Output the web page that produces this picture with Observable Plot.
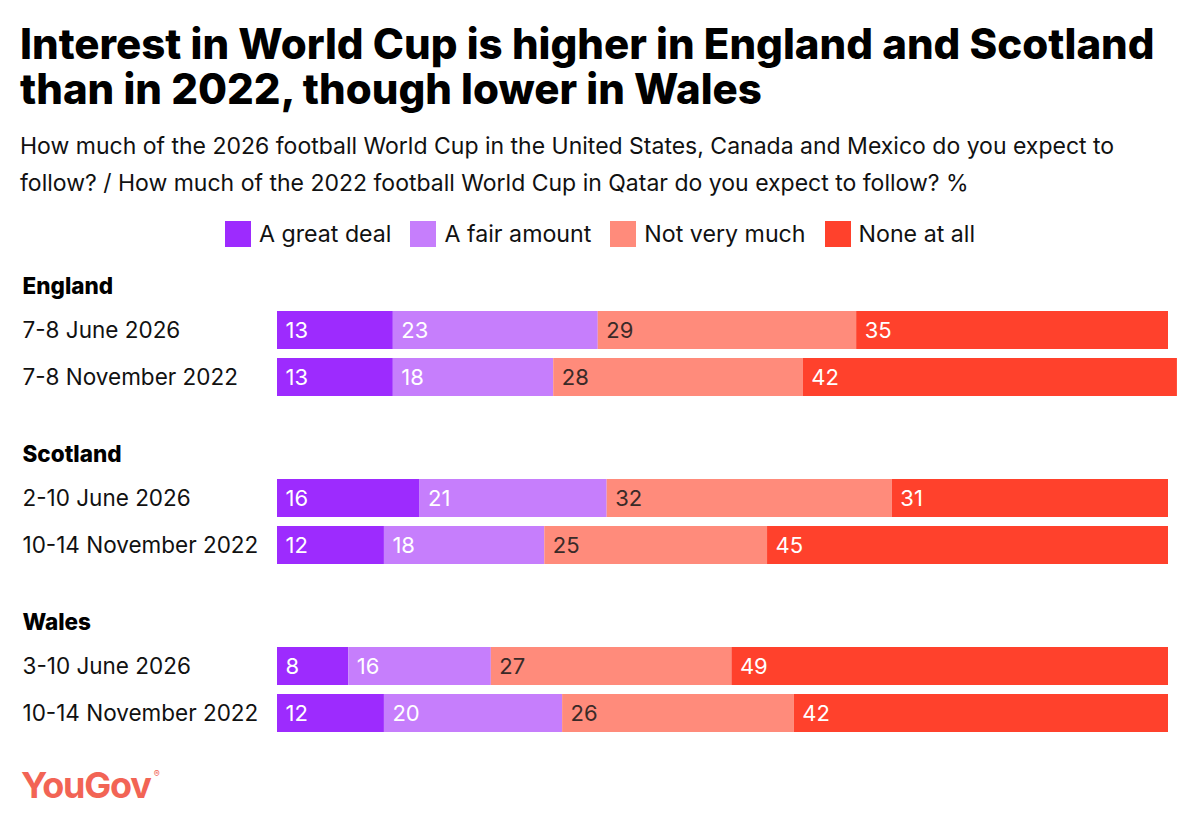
<!DOCTYPE html>
<html>
<head>
<meta charset="utf-8">
<script src="https://cdn.jsdelivr.net/npm/d3@7"></script>
<script src="https://cdn.jsdelivr.net/npm/@observablehq/plot@0.6"></script>
<style>
  html, body { margin: 0; padding: 0; background: #fff; }
  body { width: 1200px; height: 825px; position: relative; overflow: hidden; font-family: Inter, "Noto Sans", sans-serif; color: #000; }
  #title { position: absolute; left: 20px; top: 21px; font-size: 42px; font-weight: 800; letter-spacing: 0; white-space: nowrap; }
  #title div { height: 45px; line-height: 45px; }
  #subtitle { position: absolute; left: 20px; top: 128px; width: 1110px; font-size: 23px; line-height: 37px; font-weight: 400; color: #111; }
  #legend { position: absolute; left: 0; top: 221px; width: 1200px; display: flex; justify-content: center; gap: 19px; font-size: 23.2px; line-height: 26px; color: #111; }
  #legend .item { display: flex; align-items: center; gap: 8px; }
  #legend .sw { width: 26px; height: 26px; display: inline-block; }
  #chart { position: absolute; left: 0; top: 262px; }
  #logo { position: absolute; left: 21px; top: 763px; font-size: 36px; font-weight: 700; color: #f26455; letter-spacing: -1.2px; }
  #logo sup { font-size: 9px; font-weight: 400; vertical-align: top; position: relative; top: 5px; left: 3px; }
</style>
</head>
<body>
<div id="title"><div>Interest in World Cup is higher in England and Scotland</div><div>than in 2022, though lower in Wales</div></div>
<div id="subtitle">How much of the 2026 football World Cup in the United States, Canada and Mexico do you expect to follow? / How much of the 2022 football World Cup in Qatar do you expect to follow? %</div>
<div id="legend"></div>
<div id="chart"></div>
<div id="logo">YouGov<sup>®</sup></div>
<script>
const countries = ["England", "Scotland", "Wales"];
const periods = ["2026", "2022"];
const rowLabels = {
  England: ["7-8 June 2026", "7-8 November 2022"],
  Scotland: ["2-10 June 2026", "10-14 November 2022"],
  Wales: ["3-10 June 2026", "10-14 November 2022"]
};
const responses = ["A great deal", "A fair amount", "Not very much", "None at all"];
const colors = ["#9d2bfe", "#c67efc", "#ff8b7b", "#ff412c"];
const textColors = ["#ffffff", "#ffffff", "#3a2a28", "#ffffff"];

// values per row, in response order
const greatDeal   = { England: [13, 13], Scotland: [16, 12], Wales: [8, 12] };
const fairAmount  = { England: [23, 18], Scotland: [21, 18], Wales: [16, 20] };
const notVeryMuch = { England: [29, 28], Scotland: [32, 25], Wales: [27, 26] };
const noneAtAll   = { England: [35, 42], Scotland: [31, 45], Wales: [49, 42] };
const seriesByResponse = [greatDeal, fairAmount, notVeryMuch, noneAtAll];

const data = [];
for (const c of countries) {
  periods.forEach((p, i) => {
    responses.forEach((r, k) => {
      data.push({ country: c, period: p, response: r, value: seriesByResponse[k][c][i], tc: textColors[k] });
    });
  });
}
const rows = [];
for (const c of countries) periods.forEach((p, i) => rows.push({ country: c, period: p, label: rowLabels[c][i] }));

// legend
const legend = document.getElementById("legend");
responses.forEach((r, k) => {
  const it = document.createElement("div");
  it.className = "item";
  it.innerHTML = `<span class="sw" style="background:${colors[k]}"></span><span>${r}</span>`;
  legend.appendChild(it);
});

const font = "Inter, 'Noto Sans', sans-serif";
const stackOpts = { x: "value", y: "period", fy: "country", z: "response", order: responses };
const chart = Plot.plot({
  width: 1200,
  height: 484,
  marginTop: 44,
  marginBottom: 10,
  marginLeft: 277,
  marginRight: 32,
  style: { fontFamily: font, background: "transparent", overflow: "visible" },
  x: { domain: [0, 100], axis: null },
  y: { domain: periods, paddingInner: 0.2, paddingOuter: 0.1, axis: null },
  fy: { domain: countries, paddingInner: 0.4405, paddingOuter: 0, axis: null },
  color: { domain: responses, range: colors },
  marks: [
    Plot.barX(data, Plot.stackX({ ...stackOpts, fill: "response" })),
    Plot.text(data, Plot.stackX1({
      ...stackOpts, text: d => d.tc === "#ffffff" ? String(d.value) : "",
      textAnchor: "start", dx: 8, fill: "#ffffff", fontSize: 22
    })),
    Plot.text(data, Plot.stackX1({
      ...stackOpts, text: d => d.tc === "#ffffff" ? "" : String(d.value),
      textAnchor: "start", dx: 8, fill: "#3a2a28", fontSize: 22
    })),
    Plot.text(rows, { y: "period", fy: "country", text: "label", frameAnchor: "left", textAnchor: "start", dx: -255, fill: "#111", fontSize: 22.5 }),
    Plot.text(countries, { fy: d => d, text: d => d, frameAnchor: "top-left", textAnchor: "start", lineAnchor: "middle", dx: -255, dy: -20, fill: "#000", fontSize: 22.5, fontWeight: 800 })
  ]
});
document.getElementById("chart").appendChild(chart);
</script>
</body>
</html>
